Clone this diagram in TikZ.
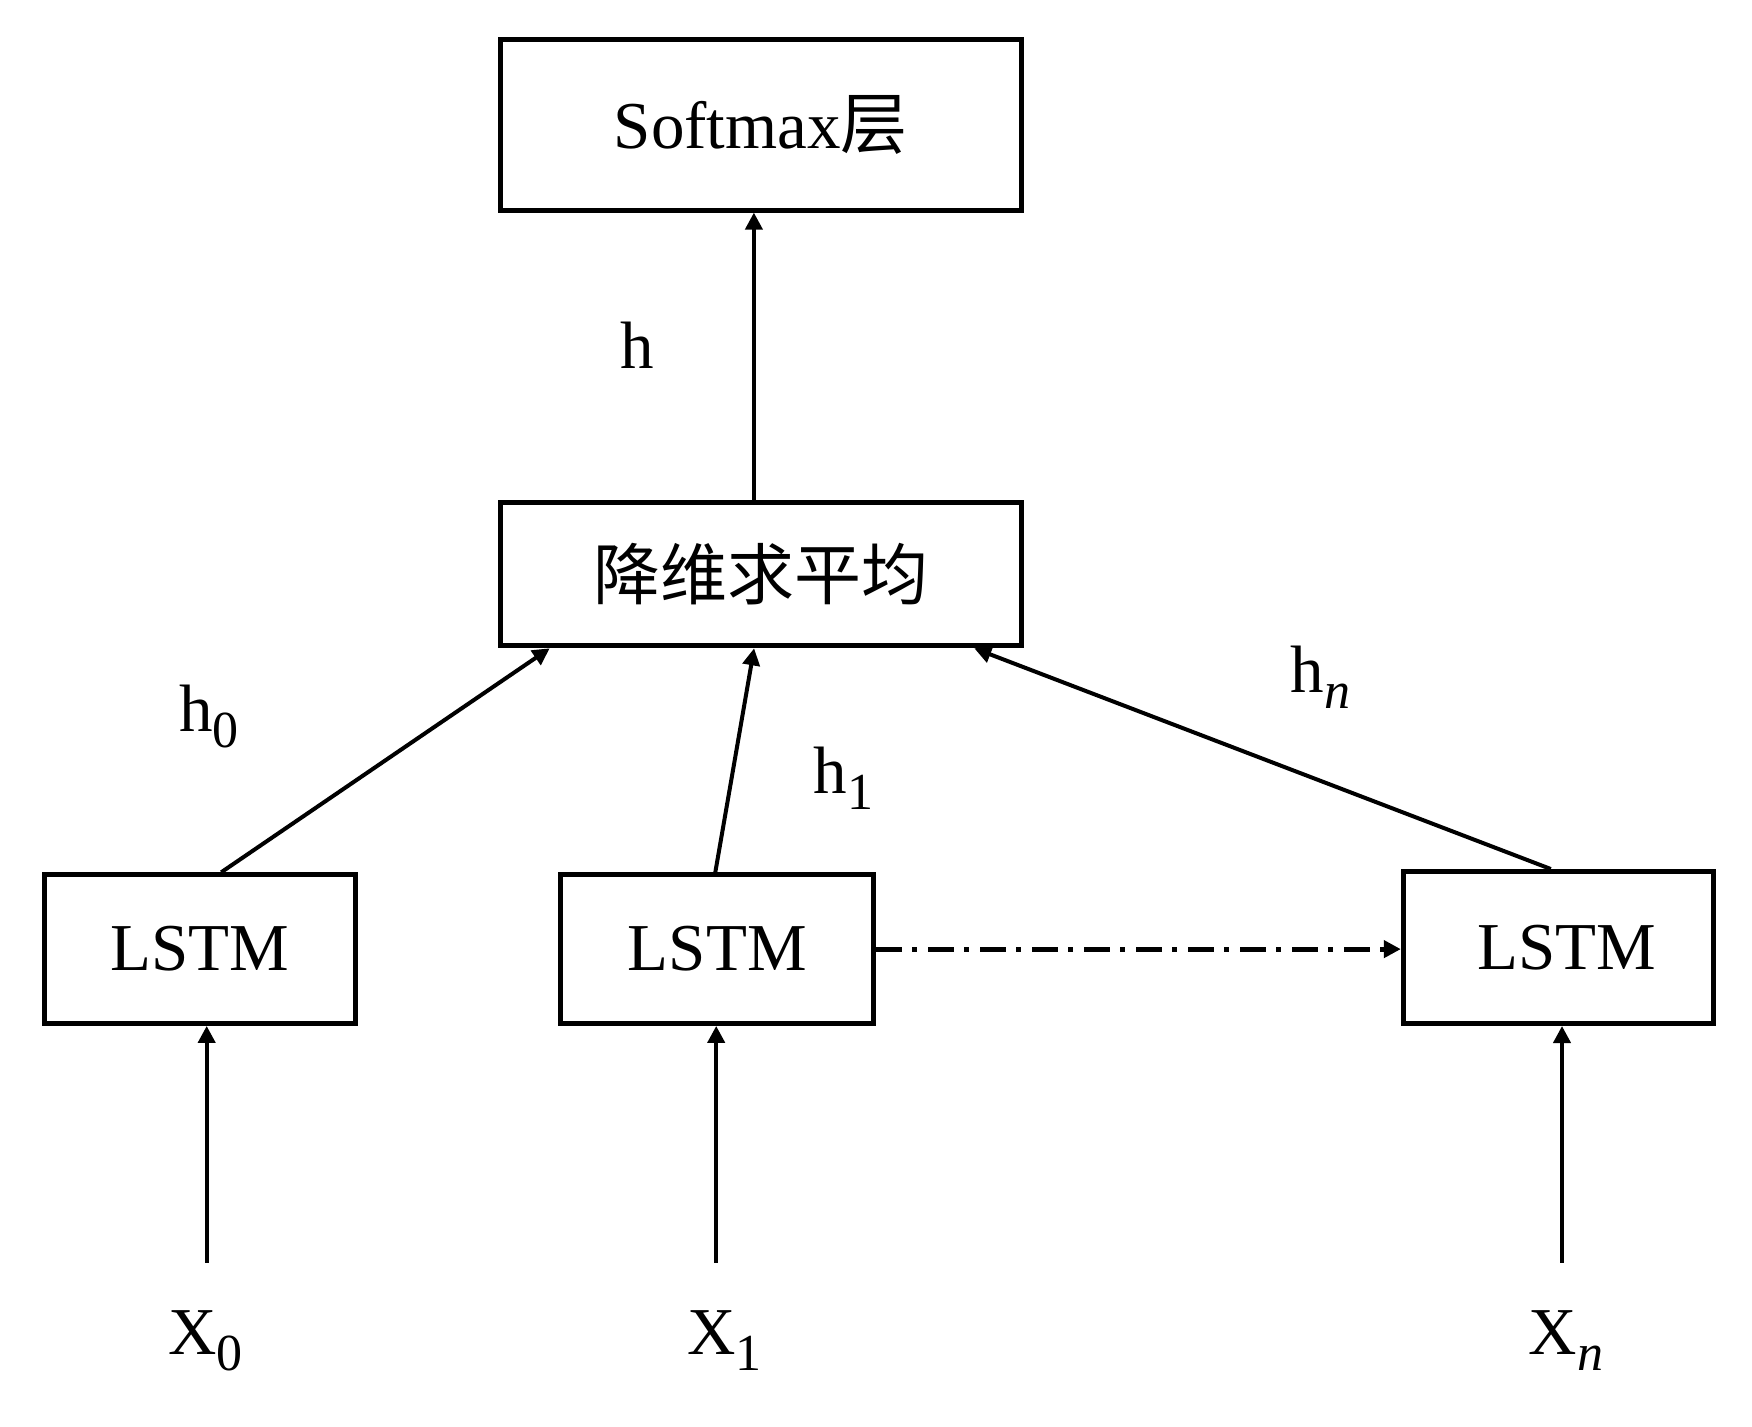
\documentclass[tikz,border=0pt]{standalone}
\usepackage{fontspec}
\setmainfont{Liberation Serif}
\newfontfamily\cjk{Noto Sans CJK SC}
\usetikzlibrary{arrows.meta}
\newcommand\mysub[1]{\raisebox{-8pt}{\fontsize{26}{28}\selectfont #1}}
\begin{document}
\begin{tikzpicture}[x=0.5pt,y=-0.5pt,
  box/.style={draw, line width=2.5pt, inner sep=0pt, font=\fontsize{33.5}{40}\selectfont},
  lbl/.style={inner sep=0pt, anchor=base west, font=\fontsize{33.5}{40}\selectfont},
  arr/.style={line width=2pt, -{Triangle[width=8.5pt,length=8.5pt]}},
  dd/.style={line width=2.4pt, dash pattern=on 13pt off 5pt on 2.5pt off 5.5pt, -{Triangle[width=8.5pt,length=8.5pt]}}]
\useasboundingbox (0,0) rectangle (1752,1426);
\node[box, minimum width=260.3pt, minimum height=85.5pt] (soft) at (760.9,124.6) {Softmax{\cjk 层}};
\node[box, minimum width=260.3pt, minimum height=71.5pt] (avg) at (760.9,574.3) {\cjk 降维求平均};
\node[box, minimum width=155.3pt, minimum height=74.3pt] (l0) at (200,949.1) {LSTM};
\node[box, minimum width=156.4pt, minimum height=74.3pt] (l1) at (717.3,949.1) {LSTM};
\node[box, minimum width=155.3pt, minimum height=76pt] (ln) at (1558.6,947.5) {\hspace*{8pt}LSTM};
\node[lbl] (lh) at (620,368.7) {h};
\node[lbl] (lh0) at (178.8,731.8) {h\mysub{0}};
\node[lbl] (lh1) at (813.4,793) {h\mysub{1}};
\node[lbl] (lhn) at (1290.5,692.7) {h\mysub{\textit{n}}};
\node[lbl] (x0) at (167.6,1354) {X\mysub{0}};
\node[lbl] (x1) at (687,1354) {X\mysub{1}};
\node[lbl] (xn) at (1528.5,1354) {X\mysub{\textit{n}}};
\coordinate (in0) at (206.7,1262.5);
\coordinate (in1) at (716.2,1262.5);
\coordinate (inn) at (1562,1262.5);
\draw[arr] ([xshift=-3.5pt]avg.north) -- ([xshift=-3.5pt]soft.south);
\draw[arr] ([xshift=10.6pt]l0.north) -- ([xshift=-105.6pt]avg.south);
\draw[arr] ([xshift=-1pt]l1.north) -- ([xshift=-3.4pt]avg.south);
\draw[arr] ([xshift=-3.9pt]ln.north) -- ([xshift=106.7pt]avg.south);
\draw[arr] (in0) -- (in0 |- l0.south);
\draw[arr] (in1) -- (in1 |- l1.south);
\draw[arr] (inn) -- (inn |- ln.south);
\draw[dd] (l1.east) -- (l1.east -| ln.west);
\end{tikzpicture}
\end{document}
